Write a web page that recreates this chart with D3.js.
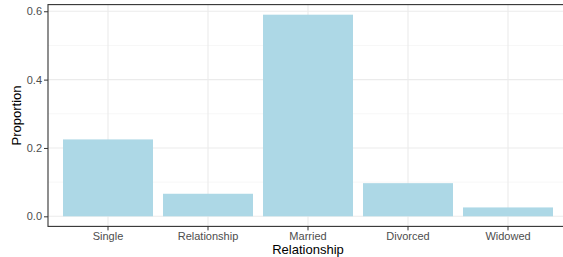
<!DOCTYPE html>
<html>
<head>
<meta charset="utf-8">
<script src="https://cdn.jsdelivr.net/npm/d3@7"></script>
<style>
  body { margin: 0; background: #fff; }
  svg { display: block; font-family: "Liberation Sans", Arial, sans-serif; }
</style>
</head>
<body>
<svg id="chart" width="563" height="257"></svg>
<script>
const categories = ["Single", "Relationship", "Married", "Divorced", "Widowed"];
const proportions = [0.225, 0.066, 0.590, 0.097, 0.026];
const yTicks = [0, 0.2, 0.4, 0.6];
const yMinor = [0.1, 0.3, 0.5];

let svg = d3.select("#chart");

// panel bounds (right side runs off the image)
let panelLeft = 48, panelTop = 4.6, panelBottom = 226.4;
let step = 100;
let panelRight = panelLeft + step * (categories.length + 0.2);

let x = d3.scaleBand()
  .domain(categories)
  .range([panelLeft + 0.1 * step, panelRight - 0.1 * step])
  .paddingInner(0.1)
  .paddingOuter(0.05);

let ymax = d3.max(proportions);
let y = d3.scaleLinear()
  .domain([-0.05 * ymax, ymax * 1.05])
  .range([panelBottom, panelTop]);

let grid = svg.append("g");
grid.selectAll(".minor").data(yMinor).enter().append("line")
  .attr("x1", panelLeft).attr("x2", panelRight)
  .attr("y1", d => y(d)).attr("y2", d => y(d))
  .attr("stroke", "#f2f2f2").attr("stroke-width", 0.6);
grid.selectAll(".major").data(yTicks).enter().append("line")
  .attr("x1", panelLeft).attr("x2", panelRight)
  .attr("y1", d => y(d)).attr("y2", d => y(d))
  .attr("stroke", "#ebebeb").attr("stroke-width", 1.1);
grid.selectAll(".vmajor").data(categories).enter().append("line")
  .attr("x1", d => x(d) + x.bandwidth() / 2).attr("x2", d => x(d) + x.bandwidth() / 2)
  .attr("y1", panelTop).attr("y2", panelBottom)
  .attr("stroke", "#ebebeb").attr("stroke-width", 1.1);

svg.append("g").selectAll("rect").data(categories).enter().append("rect")
  .attr("x", d => x(d))
  .attr("width", x.bandwidth())
  .attr("y", (d, i) => y(proportions[i]))
  .attr("height", (d, i) => y(0) - y(proportions[i]))
  .attr("fill", "#add8e6");

// panel border
svg.append("rect")
  .attr("x", panelLeft).attr("y", panelTop)
  .attr("width", panelRight - panelLeft).attr("height", panelBottom - panelTop)
  .attr("fill", "none").attr("stroke", "#333").attr("stroke-width", 1.1);

// axes
let yAxis = d3.axisLeft(y).tickValues(yTicks).tickFormat(d3.format(".1f")).tickSize(4).tickPadding(2);
let gy = svg.append("g").attr("transform", `translate(${panelLeft},0)`).call(yAxis);
let xAxis = d3.axisBottom(x).tickSize(4).tickPadding(2);
let gx = svg.append("g").attr("transform", `translate(0,${panelBottom})`).call(xAxis);
[gy, gx].forEach(g => {
  g.select(".domain").remove();
  g.selectAll(".tick line").attr("stroke", "#333");
  g.selectAll(".tick text").attr("fill", "#4d4d4d")
    .style("font-size", "11px")
    .style("font-family", "Liberation Sans, Arial, sans-serif");
});

svg.append("text")
  .attr("x", x("Married") + x.bandwidth() / 2)
  .attr("y", 254)
  .attr("text-anchor", "middle")
  .attr("font-size", "13px")
  .attr("fill", "#000")
  .text("Relationship");

svg.append("text")
  .attr("transform", `translate(21,${(panelTop + panelBottom) / 2}) rotate(-90)`)
  .attr("text-anchor", "middle")
  .attr("font-size", "13px")
  .attr("fill", "#000")
  .text("Proportion");
</script>
</body>
</html>
